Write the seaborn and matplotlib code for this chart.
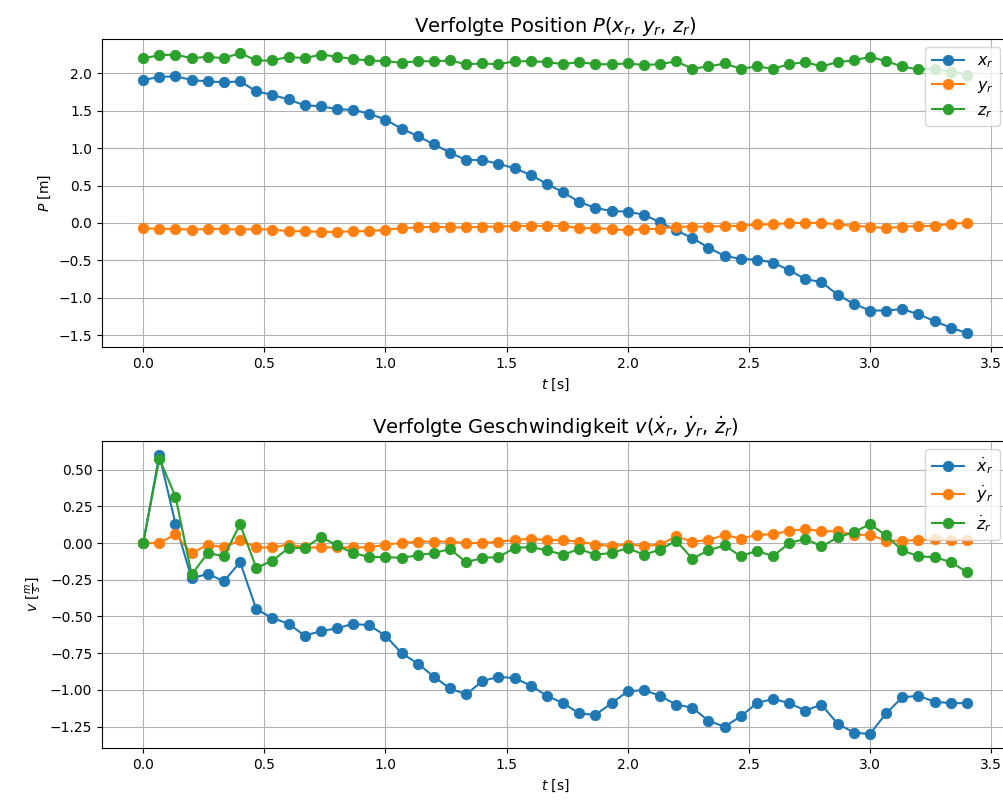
import numpy as np
import pandas as pd
import matplotlib
matplotlib.use("Agg")
import matplotlib.pyplot as plt
import seaborn as sns

# === Data ===
# time stamps: 52 samples, 1/15 s apart
t = [i / 15 for i in range(52)]

x_r = [1.91, 1.95, 1.96, 1.91, 1.89, 1.88, 1.89, 1.76, 1.71, 1.65,
       1.57, 1.56, 1.52, 1.51, 1.46, 1.38, 1.26, 1.16, 1.05, 0.94,
       0.84, 0.84, 0.79, 0.73, 0.64, 0.52, 0.41, 0.28, 0.20, 0.16,
       0.15, 0.11, 0.01, -0.10, -0.20, -0.33, -0.44, -0.48, -0.49, -0.53,
       -0.63, -0.75, -0.79, -0.96, -1.08, -1.17, -1.17, -1.15, -1.22, -1.31,
       -1.40, -1.47]
y_r = [-0.07, -0.08, -0.08, -0.09, -0.08, -0.08, -0.09, -0.08, -0.09, -0.11,
       -0.11, -0.12, -0.12, -0.11, -0.11, -0.09, -0.07, -0.06, -0.05, -0.06,
       -0.06, -0.05, -0.05, -0.04, -0.04, -0.04, -0.04, -0.07, -0.07, -0.08,
       -0.10, -0.08, -0.08, -0.05, -0.05, -0.05, -0.04, -0.04, -0.02, -0.02,
       0.0, 0.0, 0.0, -0.02, -0.04, -0.05, -0.07, -0.05, -0.04, -0.04,
       -0.01, 0.0]
z_r = [2.20, 2.24, 2.25, 2.20, 2.22, 2.20, 2.27, 2.17, 2.17, 2.22,
       2.20, 2.25, 2.22, 2.19, 2.17, 2.16, 2.14, 2.16, 2.16, 2.17,
       2.12, 2.13, 2.12, 2.16, 2.16, 2.15, 2.12, 2.15, 2.12, 2.12,
       2.13, 2.11, 2.12, 2.16, 2.06, 2.09, 2.13, 2.06, 2.09, 2.06,
       2.12, 2.15, 2.09, 2.15, 2.17, 2.22, 2.16, 2.09, 2.05, 2.06,
       2.02, 1.98]

xd_r = [0.0, 0.60, 0.13, -0.24, -0.21, -0.26, -0.13, -0.45, -0.51, -0.55,
        -0.63, -0.60, -0.58, -0.55, -0.56, -0.63, -0.75, -0.82, -0.91, -0.99,
        -1.03, -0.94, -0.91, -0.92, -0.97, -1.04, -1.09, -1.16, -1.17, -1.09,
        -1.01, -1.00, -1.04, -1.10, -1.12, -1.21, -1.25, -1.18, -1.09, -1.06,
        -1.09, -1.14, -1.10, -1.23, -1.29, -1.30, -1.16, -1.05, -1.04, -1.08,
        -1.09, -1.09]
yd_r = [0.0, 0.0, 0.06, -0.07, -0.01, -0.03, 0.02, -0.03, -0.03, -0.01,
        -0.03, -0.03, -0.03, -0.03, -0.03, -0.01, 0.0, 0.01, 0.01, 0.01,
        0.0, 0.0, 0.01, 0.02, 0.03, 0.02, 0.02, 0.01, -0.01, -0.02,
        -0.01, -0.02, -0.01, 0.045, 0.01, 0.02, 0.056, 0.03, 0.056, 0.06,
        0.083, 0.095, 0.08, 0.08, 0.056, 0.056, 0.016, 0.016, 0.02, 0.027,
        0.023, 0.023]
zd_r = [0.0, 0.575, 0.316, -0.214, -0.068, -0.09, 0.128, -0.169, -0.12, -0.034,
        -0.034, 0.041, -0.016, -0.068, -0.095, -0.095, -0.101, -0.083, -0.068, -0.041,
        -0.131, -0.101, -0.095, -0.034, -0.027, -0.05, -0.079, -0.041, -0.079, -0.068,
        -0.034, -0.079, -0.045, 0.016, -0.106, -0.05, -0.016, -0.09, -0.052, -0.09,
        0.0, 0.029, -0.023, 0.038, 0.074, 0.128, 0.052, -0.05, -0.09, -0.097,
        -0.128, -0.198]

pos_labels = ["$x_r$", "$y_r$", "$z_r$"]
vel_labels = ["$\\dot{x}_r$", "$\\dot{y}_r$", "$\\dot{z}_r$"]
colors = ["#1f77b4", "#ff7f0e", "#2ca02c"]

# === Figure ===
fig = plt.figure(figsize=(10.04, 8.01), dpi=100)
ax1 = fig.add_axes([0.1016, 0.5668, 0.9024, 0.3845])
ax2 = fig.add_axes([0.1016, 0.0662, 0.9024, 0.3833])


def draw_panel(ax, series, labels, title, ylabel):
    for vals, lab, col in zip(series, labels, colors):
        df = pd.DataFrame({"t": t, "v": vals})
        sns.lineplot(data=df, x="t", y="v", ax=ax, color=col, label=lab,
                     marker="o", markersize=7.5, markeredgecolor=col,
                     markeredgewidth=0.6, linewidth=1.5)
    ax.grid(True, color="#b0b0b0", linewidth=0.8)
    ax.set_axisbelow(True)
    ax.set_title(title, fontsize=14, pad=5)
    ax.set_xlabel("$t$ [s]", fontsize=10)
    ax.set_ylabel(ylabel, fontsize=10)
    ax.legend(loc="upper right", fontsize=11.5)


draw_panel(ax1, [x_r, y_r, z_r], pos_labels,
           "Verfolgte Position $P(x_r$, $y_r$, $z_r)$", "$P$ [m]")
draw_panel(ax2, [xd_r, yd_r, zd_r], vel_labels,
           "Verfolgte Geschwindigkeit $v(\\dot{x}_r$, $\\dot{y}_r$, $\\dot{z}_r)$",
           "$v$ $[\\frac{m}{s}]$")

fig.savefig("out.png", dpi=100)
